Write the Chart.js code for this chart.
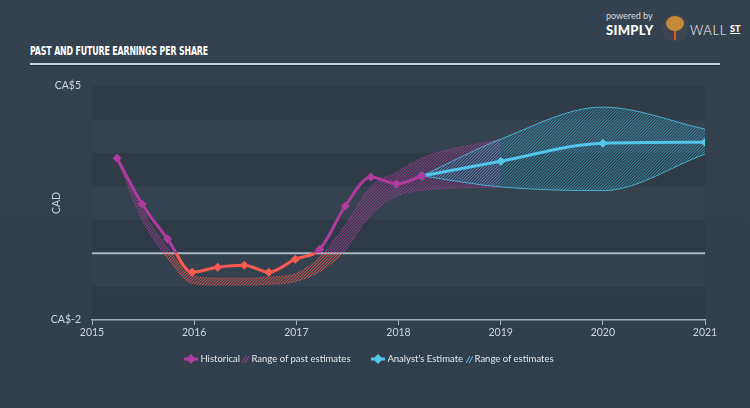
<!DOCTYPE html>
<html>
<head>
<meta charset="utf-8">
<script src="https://cdn.jsdelivr.net/npm/chart.js"></script>
<style>
  html, body { margin: 0; padding: 0; }
  body { width: 750px; height: 408px; overflow: hidden; }
  #wrap {
    position: relative; width: 750px; height: 408px;
    background: linear-gradient(180deg, #34424f 0%, #313e4b 100%);
    font-family: Lato, "Open Sans", sans-serif;
  }
  #chart { position: absolute; left: 0; top: 0; }
  #title {
    position: absolute; left: 30px; top: 43px;
    font-family: "DejaVu Sans Condensed", "DejaVu Sans", sans-serif;
    font-weight: bold; font-size: 13px; color: #ffffff;
    transform-origin: 0 0; white-space: nowrap; letter-spacing: -0.2px;
  }
  #rule {
    position: absolute; left: 30px; top: 63px; width: 690px; height: 2px;
    background: #c9d2da; box-shadow: 0 1px 0 #1f2932;
  }
  #logo { position: absolute; left: 606px; top: 8px; color: #fff; }
  #logo .pb { font-size: 9px; color: #d7dce0; position: absolute; left: 0; top: 2px; white-space: nowrap; }
  #logo .simply { font-size: 13px; font-weight: 900; position: absolute; left: 0; top: 14px; letter-spacing: 0.3px; }
  #logo .bull { position: absolute; left: 56px; top: 6px; width: 26px; height: 28px; border-radius: 50% 50% 45% 45%; background: #3d4650; }
  #logo .bull:before { content: ""; position: absolute; left: 4px; top: 2px; width: 18px; height: 15px; border-radius: 50%; background: #c48a3a; }
  #logo .bull:after { content: ""; position: absolute; left: 12px; top: 17px; width: 2px; height: 9px; background: #e0562a; }
  #logo .wall { font-size: 13px; font-weight: 300; position: absolute; left: 84px; top: 14px; letter-spacing: 0.6px; }
  #logo .st { font-size: 9px; font-weight: 900; position: absolute; left: 124px; top: 15px; text-decoration: underline; }
  #legend {
    position: absolute; left: -6px; top: 352px; width: 750px; text-align: center;
    font-size: 9.5px; color: #e4e8ec; white-space: nowrap;
  }
  #legend span.item { display: inline-block; vertical-align: middle; }
  #legend svg { vertical-align: middle; margin-right: 2px; }
  #legend .gap { display: inline-block; width: 16px; }
</style>
</head>
<body>
<div id="wrap">
  <div id="logo">
    <span class="pb">powered by</span>
    <span class="simply">SIMPLY</span>
    <span class="bull"></span>
    <span class="wall">WALL</span>
    <span class="st">ST</span>
  </div>
  <div id="title">PAST AND FUTURE EARNINGS PER SHARE</div>
  <div id="rule"></div>
  <canvas id="chart" width="750" height="408"></canvas>
  <div id="legend">
    <span class="item"><svg width="14" height="10"><line x1="0" y1="5" x2="14" y2="5" stroke="#b13a9e" stroke-width="3"/><rect x="3.5" y="1.5" width="7" height="7" fill="#b13a9e" transform="rotate(45 7 5)"/></svg>Historical</span>
    <span class="item"><svg width="7" height="10"><line x1="0" y1="9" x2="4" y2="2" stroke="#b13a9e" stroke-width="1"/><line x1="3" y1="9" x2="7" y2="2" stroke="#b13a9e" stroke-width="1"/></svg>Range of past estimates</span>
    <span class="gap"></span>
    <span class="item"><svg width="14" height="10"><line x1="0" y1="5" x2="14" y2="5" stroke="#51c5ea" stroke-width="3"/><rect x="3.5" y="1.5" width="7" height="7" fill="#51c5ea" transform="rotate(45 7 5)"/></svg>Analyst's Estimate</span>
    <span class="item"><svg width="7" height="10"><line x1="0" y1="9" x2="4" y2="2" stroke="#51c5ea" stroke-width="1"/><line x1="3" y1="9" x2="7" y2="2" stroke="#51c5ea" stroke-width="1"/></svg>Range of estimates</span>
  </div>
</div>
<script>
// Historical EPS (CA$), quarterly
const histX = [2015.245, 2015.49, 2015.74, 2015.98, 2016.23, 2016.49, 2016.73, 2016.99, 2017.23, 2017.48, 2017.73, 2017.98, 2018.23];
const histEps = [2.84, 1.47, 0.42, -0.57, -0.42, -0.36, -0.57, -0.18, 0.12, 1.41, 2.28, 2.07, 2.31];

// Range of past estimates
const pastRangeX = [2015.245, 2015.49, 2015.74, 2015.98, 2016.23, 2016.49, 2016.73, 2016.99, 2017.23, 2017.48, 2017.73, 2017.98, 2018.23, 2019.0];
const pastHigh = [2.84, 1.3, 0.15, -0.68, -0.75, -0.75, -0.72, -0.62, -0.1, 0.85, 2.0, 2.42, 2.85, 3.41];
const pastLow = [2.84, 1.0, -0.15, -0.9, -0.95, -0.95, -0.93, -0.85, -0.55, 0.1, 1.15, 1.7, 1.88, 1.98];

// Analyst estimates
const fcX = [2018.23, 2019.0, 2020.0, 2021.0];
const fcEps = [2.31, 2.75, 3.29, 3.32];
const fcHigh = [2.31, 3.41, 4.37, 3.71];
const fcLow = [2.31, 1.98, 1.87, 2.96];

// Axis
const yMin = -2, yMax = 5;
const xYears = [2015, 2016, 2017, 2018, 2019, 2020, 2021];

const MAGENTA = "#b13a9e";
const RED = "#ff5a4f";
const CYAN = "#51c5ea";

// fit title width
const t = document.getElementById("title");
t.style.transform = "scaleX(" + (178 / t.getBoundingClientRect().width) + ")";

function pts(xs, ys) {
  return xs.map((x, i) => ({ x, y: ys[i] }));
}

// hatch pattern anchored to the canvas; colour switches at the zero line
const patternCache = {};
function hatch(chart, above, below, alpha) {
  const area = chart.chartArea;
  if (!area) return "rgba(0,0,0,0)";
  const z = Math.round(chart.scales.y.getPixelForValue(0));
  const key = above + below + z + alpha;
  if (patternCache[key]) return patternCache[key];
  const P = 3, H = 408;
  const c = document.createElement("canvas");
  c.width = P; c.height = H;
  const g = c.getContext("2d");
  const img = g.createImageData(P, H);
  const hex = (h) => [parseInt(h.substr(1, 2), 16), parseInt(h.substr(3, 2), 16), parseInt(h.substr(5, 2), 16)];
  const a = hex(above), b = hex(below);
  for (let y = 0; y < H; y++) {
    for (let x = 0; x < P; x++) {
      const k = (x + y) % P;
      if (k === 2) continue;
      const col = y < z ? a : b;
      const i = (y * P + x) * 4;
      img.data[i] = col[0]; img.data[i + 1] = col[1]; img.data[i + 2] = col[2];
      img.data[i + 3] = Math.round(255 * alpha * (k === 0 ? 1 : 0.35));
    }
  }
  g.putImageData(img, 0, 0);
  patternCache[key] = g.createPattern(c, "repeat");
  return patternCache[key];
}

function splitGradient(ctx) {
  const chart = ctx.chart;
  const area = chart.chartArea;
  if (!area) return MAGENTA;
  const z = chart.scales.y.getPixelForValue(0);
  const f = Math.min(1, Math.max(0, (z - area.top) / (area.bottom - area.top)));
  const gr = chart.ctx.createLinearGradient(0, area.top, 0, area.bottom);
  gr.addColorStop(0, MAGENTA);
  gr.addColorStop(f, MAGENTA);
  gr.addColorStop(f, RED);
  gr.addColorStop(1, RED);
  return gr;
}

// alternating horizontal bands
const bandsPlugin = {
  id: "bands",
  beforeDatasetsDraw(chart) {
    const { ctx, chartArea, scales } = chart;
    ctx.save();
    for (let v = yMin; v < yMax; v++) {
      const top = scales.y.getPixelForValue(v + 1);
      const bot = scales.y.getPixelForValue(v);
      ctx.fillStyle = (v % 2 === 0) ? "rgba(0,0,0,0.07)" : "rgba(255,255,255,0.012)";
      ctx.fillRect(chartArea.left, top, chartArea.right - chartArea.left, bot - top);
    }
    ctx.restore();
  }
};

// zero line above bands, under lines
const zeroPlugin = {
  id: "zeroLine",
  beforeDatasetsDraw(chart) {
    const { ctx, chartArea, scales } = chart;
    const z = scales.y.getPixelForValue(0);
    ctx.save();
    ctx.strokeStyle = "#aeb8c2";
    ctx.lineWidth = 2;
    ctx.beginPath();
    ctx.moveTo(chartArea.left, z);
    ctx.lineTo(chartArea.right, z);
    ctx.stroke();
    ctx.restore();
  }
};

const ctx = document.getElementById("chart").getContext("2d");
new Chart(ctx, {
  type: "line",
  data: {
    datasets: [
      {
        label: "Historical",
        data: pts(histX, histEps),
        borderColor: splitGradient,
        borderWidth: 3,
        pointStyle: "rectRot",
        pointRadius: 4.5,
        pointBackgroundColor: histEps.map((v) => (v >= 0 ? MAGENTA : RED)),
        pointBorderWidth: 0,
        cubicInterpolationMode: "monotone",
        fill: false,
        order: 0
      },
      {
        label: "Analyst's Estimate",
        data: pts(fcX, fcEps),
        borderColor: CYAN,
        borderWidth: 3,
        pointStyle: "rectRot",
        pointRadius: 4.5,
        pointBackgroundColor: CYAN,
        pointBorderWidth: 0,
        cubicInterpolationMode: "monotone",
        fill: false,
        order: 0
      },
      {
        label: "Range of past estimates",
        data: pts(pastRangeX, pastHigh),
        borderColor: (c) => hatch(c.chart, MAGENTA, RED, 0.9),
        backgroundColor: (c) => hatch(c.chart, MAGENTA, RED, 0.65),
        borderWidth: 1,
        pointRadius: 0,
        cubicInterpolationMode: "monotone",
        fill: "+1",
        order: 2
      },
      {
        label: "past low",
        data: pts(pastRangeX, pastLow),
        borderColor: (c) => hatch(c.chart, MAGENTA, RED, 0.9),
        borderWidth: 1,
        pointRadius: 0,
        cubicInterpolationMode: "monotone",
        fill: false,
        order: 2
      },
      {
        label: "Range of estimates",
        data: pts(fcX, fcHigh),
        borderColor: CYAN,
        backgroundColor: (c) => hatch(c.chart, "#3ba9d0", "#3ba9d0", 0.6),
        borderWidth: 0.8,
        pointRadius: 0,
        cubicInterpolationMode: "monotone",
        fill: "+1",
        order: 1
      },
      {
        label: "fc low",
        data: pts(fcX, fcLow),
        borderColor: CYAN,
        borderWidth: 0.8,
        pointRadius: 0,
        cubicInterpolationMode: "monotone",
        fill: false,
        order: 1
      }
    ]
  },
  options: {
    responsive: false,
    animation: false,
    layout: { padding: { left: 48, right: 45, top: 86, bottom: 66 } },
    plugins: {
      legend: { display: false },
      tooltip: { enabled: false }
    },
    scales: {
      x: {
        type: "linear",
        min: 2015,
        max: 2021,
        afterBuildTicks(scale) {
          scale.ticks = xYears.map((v) => ({ value: v }));
        },
        afterFit(scale) { scale.height = 22; },
        grid: { display: true, drawOnChartArea: false, tickLength: 5, color: "#a9b6c2" },
        border: { display: true, color: "#a9b6c2", width: 1.5 },
        ticks: {
          color: "#cfd6dc",
          font: { family: "Lato", size: 10.5 },
          padding: 1,
          callback: (v) => String(v)
        }
      },
      y: {
        min: yMin,
        max: yMax,
        afterFit(scale) { scale.width = 44; },
        grid: { display: false, drawTicks: false },
        border: { display: false },
        ticks: {
          stepSize: 1,
          color: "#cfd6dc",
          font: { family: "Lato", size: 10.5 },
          padding: 11,
          callback: (v) => (v === yMax || v === yMin ? "CA$" + v : "")
        },
        title: {
          display: true,
          text: "CAD",
          color: "#cfd6dc",
          font: { family: "Lato", size: 10.5 },
          padding: { top: 2, bottom: 0 }
        }
      }
    }
  },
  plugins: [bandsPlugin, zeroPlugin]
});
</script>
</body>
</html>
